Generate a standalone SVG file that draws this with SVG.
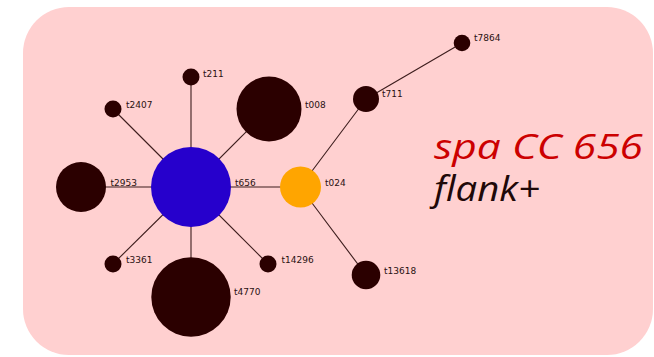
<svg xmlns="http://www.w3.org/2000/svg" width="654" height="357" viewBox="0 0 654 357">
  <style>
    .edge { stroke: #3c1c1c; stroke-width: 1.1; fill: none; }
    .st { fill: #2b0000; }
    .lbl { font-family: "DejaVu Sans", Verdana, sans-serif; font-size: 9px; fill: #2a1010; }
    .title { font-family: "Open Sans", "Liberation Sans", sans-serif; font-style: italic; font-size: 34px; }
  </style>
  <rect x="0" y="0" width="654" height="357" fill="#ffffff"/>
  <rect id="panel" x="23" y="7" width="630" height="348" rx="46" ry="46" fill="#ffd0d0"/>

  <g id="connectors">
    <line class="edge" x1="191" y1="187" x2="191" y2="77"/>
    <line class="edge" x1="191" y1="187" x2="113" y2="109"/>
    <line class="edge" x1="191" y1="187" x2="269" y2="109"/>
    <line class="edge" x1="191" y1="187" x2="81" y2="187"/>
    <line class="edge" x1="191" y1="187" x2="113" y2="264"/>
    <line class="edge" x1="191" y1="187" x2="191" y2="297"/>
    <line class="edge" x1="191" y1="187" x2="268" y2="264"/>
    <line class="edge" x1="191" y1="187" x2="300" y2="187"/>
    <line class="edge" x1="300" y1="187" x2="366" y2="99"/>
    <line class="edge" x1="300" y1="187" x2="366" y2="275"/>
    <line class="edge" x1="366" y1="99" x2="462" y2="43"/>
  </g>

  <g id="t656"><circle cx="191" cy="187" r="40" fill="#2600cc"/><text class="lbl" x="235" y="186">t656</text></g>
  <g id="t024"><circle cx="300.5" cy="187" r="20.5" fill="#ffa500"/><text class="lbl" x="325" y="186">t024</text></g>
  <g id="t211"><circle class="st" cx="191" cy="77" r="8.5"/><text class="lbl" x="203" y="77">t211</text></g>
  <g id="t2407"><circle class="st" cx="113" cy="109" r="8.5"/><text class="lbl" x="126" y="108">t2407</text></g>
  <g id="t008"><circle class="st" cx="269" cy="109" r="32.5"/><text class="lbl" x="305" y="108">t008</text></g>
  <g id="t2953"><circle class="st" cx="81" cy="187" r="25"/><text class="lbl" x="110.5" y="186">t2953</text></g>
  <g id="t3361"><circle class="st" cx="113" cy="264" r="8.5"/><text class="lbl" x="126" y="263">t3361</text></g>
  <g id="t4770"><circle class="st" cx="191" cy="297" r="39.7"/><text class="lbl" x="234" y="295">t4770</text></g>
  <g id="t14296"><circle class="st" cx="268" cy="264" r="8.5"/><text class="lbl" x="281.5" y="263">t14296</text></g>
  <g id="t711"><circle class="st" cx="366" cy="99" r="13"/><text class="lbl" x="382" y="97">t711</text></g>
  <g id="t7864"><circle class="st" cx="462" cy="43" r="8.3"/><text class="lbl" x="474" y="41">t7864</text></g>
  <g id="t13618"><circle class="st" cx="366" cy="275" r="14.3"/><text class="lbl" x="384" y="274">t13618</text></g>

  <g id="caption">
    <text class="title" x="434" y="159" fill="#cc0000" textLength="209" lengthAdjust="spacingAndGlyphs">spa CC 656</text>
    <text class="title" x="434" y="201" fill="#200808" textLength="106" lengthAdjust="spacingAndGlyphs">flank+</text>
  </g>
</svg>
